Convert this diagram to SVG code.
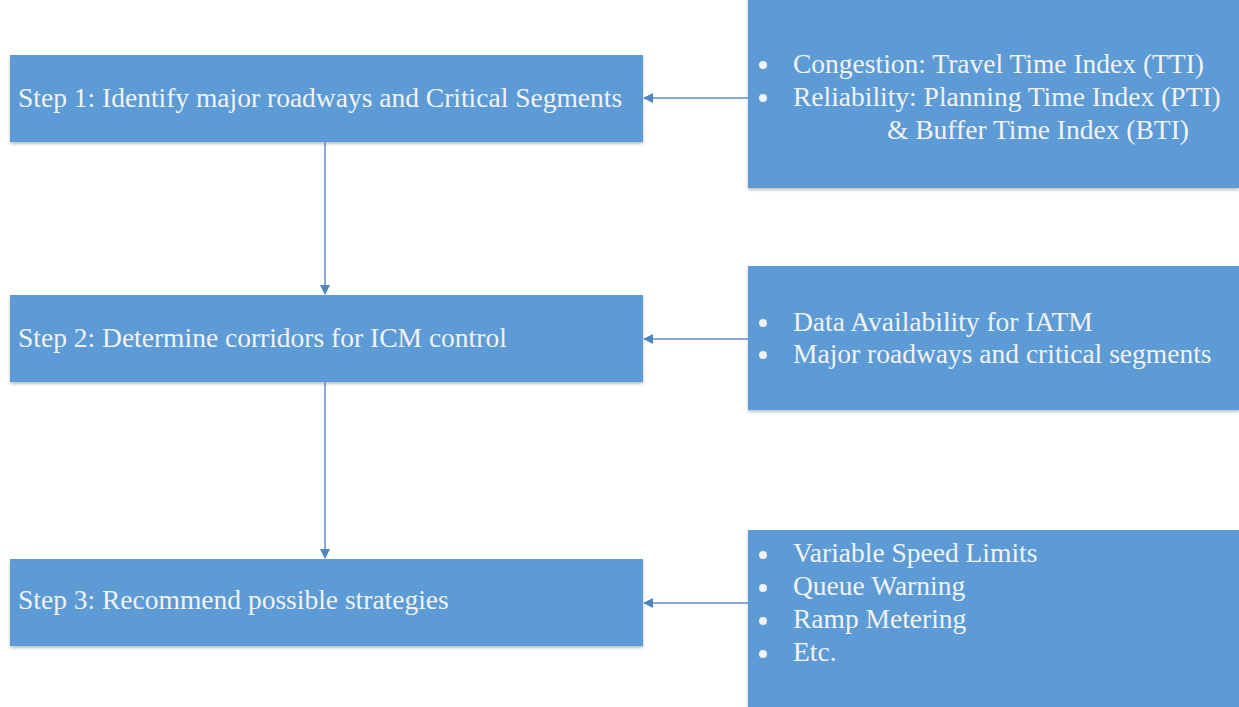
<svg xmlns="http://www.w3.org/2000/svg" width="1239" height="707" viewBox="0 0 1239 707">
<style>
.box{fill:#5B9BD5;}
.t{font-size:27.5px;fill:#F2F2F2;}
.con{stroke:#5B8FC9;stroke-width:1.5;fill:none;}
.dot{fill:#F2F2F2;}
</style>
<defs>
<marker id="ah" markerWidth="10" markerHeight="10" refX="9" refY="5" orient="auto" markerUnits="userSpaceOnUse">
<path d="M0,0 L10,5 L0,10 z" fill="#4F86C0"/>
</marker>
<filter id="sh" x="-5%" y="-5%" width="110%" height="115%">
<feDropShadow dx="0" dy="2" stdDeviation="1.5" flood-color="#000" flood-opacity="0.25"/>
</filter>
</defs>
<rect width="1239" height="707" fill="#FFFFFF"/>
<g id="step1">
<rect class="box" x="10" y="55" width="633" height="87" filter="url(#sh)"/>
<text class="t" font-family="Liberation Serif, serif" x="18" y="107">Step 1: Identify major roadways and Critical Segments</text>
</g>
<g id="step2">
<rect class="box" x="10" y="295" width="633" height="87" filter="url(#sh)"/>
<text class="t" font-family="Liberation Serif, serif" x="18" y="347">Step 2: Determine corridors for ICM control</text>
</g>
<g id="step3">
<rect class="box" x="10" y="559" width="633" height="87" filter="url(#sh)"/>
<text class="t" font-family="Liberation Serif, serif" x="18" y="609">Step 3: Recommend possible strategies</text>
</g>
<g id="metrics">
<rect class="box" x="748" y="-5" width="491" height="193" filter="url(#sh)"/>
<circle class="dot" cx="763" cy="65" r="4"/>
<circle class="dot" cx="763" cy="98" r="4"/>
<text class="t" font-family="Liberation Serif, serif" x="793" y="73">Congestion: Travel Time Index (TTI)</text>
<text class="t" font-family="Liberation Serif, serif" x="793" y="106">Reliability: Planning Time Index (PTI)</text>
<text class="t" font-family="Liberation Serif, serif" x="887" y="139">&amp; Buffer Time Index (BTI)</text>
</g>
<g id="criteria">
<rect class="box" x="748" y="266" width="491" height="144" filter="url(#sh)"/>
<circle class="dot" cx="763" cy="323" r="4"/>
<circle class="dot" cx="763" cy="355" r="4"/>
<text class="t" font-family="Liberation Serif, serif" x="793" y="331">Data Availability for IATM</text>
<text class="t" font-family="Liberation Serif, serif" x="793" y="363">Major roadways and critical segments</text>
</g>
<g id="strategies">
<rect class="box" x="748" y="530" width="491" height="182" filter="url(#sh)"/>
<circle class="dot" cx="763" cy="555" r="4"/>
<circle class="dot" cx="763" cy="588" r="4"/>
<circle class="dot" cx="763" cy="621" r="4"/>
<circle class="dot" cx="763" cy="654" r="4"/>
<text class="t" font-family="Liberation Serif, serif" x="793" y="562">Variable Speed Limits</text>
<text class="t" font-family="Liberation Serif, serif" x="793" y="595">Queue Warning</text>
<text class="t" font-family="Liberation Serif, serif" x="793" y="628">Ramp Metering</text>
<text class="t" font-family="Liberation Serif, serif" x="793" y="661">Etc.</text>
</g>
<g id="connectors">
<line class="con" x1="748" y1="98" x2="644" y2="98" marker-end="url(#ah)"/>
<line class="con" x1="748" y1="339" x2="644" y2="339" marker-end="url(#ah)"/>
<line class="con" x1="748" y1="603" x2="644" y2="603" marker-end="url(#ah)"/>
<line class="con" x1="325" y1="142" x2="325" y2="294" marker-end="url(#ah)"/>
<line class="con" x1="325" y1="382" x2="325" y2="558" marker-end="url(#ah)"/>
</g>
</svg>
